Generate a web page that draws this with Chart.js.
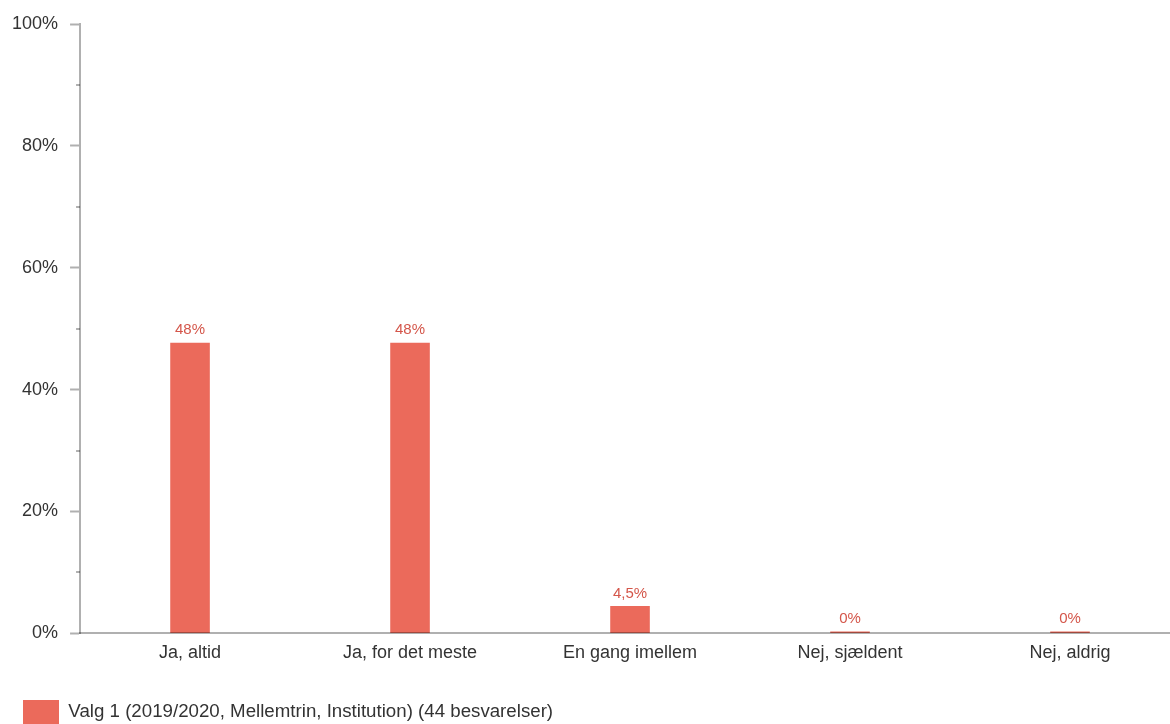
<!DOCTYPE html>
<html>
<head>
<meta charset="utf-8">
<script src="https://cdn.jsdelivr.net/npm/chart.js@4/dist/chart.umd.min.js"></script>
<style>
  html, body { margin: 0; padding: 0; background: #fff; overflow: hidden; }
  #wrap { width: 1180px; height: 734px; position: relative; }
</style>
</head>
<body>
<div id="wrap"><canvas id="chart"></canvas></div>
<script>
/* ── data ── */
const categories = ['Ja, altid', 'Ja, for det meste', 'En gang imellem', 'Nej, sjældent', 'Nej, aldrig'];
const values     = [47.7, 47.7, 4.5, 0, 0];
const valueLabels = ['48%', '48%', '4,5%', '0%', '0%'];
const seriesName = 'Valg 1 (2019/2020, Mellemtrin, Institution) (44 besvarelser)';
const minorTicks = [10, 30, 50, 70, 90];

const BAR = '#eb6a5b';
const LABEL = '#d4564a';
const AXIS = 'rgba(0,0,0,0.31)';
const FONT = '"Liberation Sans", Arial, sans-serif';

// value labels above each bar
const barLabels = {
  id: 'barLabels',
  afterDatasetsDraw(chart) {
    const ctx = chart.ctx;
    const meta = chart.getDatasetMeta(0);
    ctx.save();
    ctx.font = '15px ' + FONT;
    ctx.fillStyle = LABEL;
    ctx.textAlign = 'center';
    ctx.textBaseline = 'bottom';
    meta.data.forEach((bar, i) => {
      ctx.fillText(valueLabels[i], bar.x, Math.min(bar.y, bar.base) - 5);
    });
    ctx.restore();
  }
};

// short minor ticks on the y axis
const minorTickMarks = {
  id: 'minorTickMarks',
  afterDraw(chart) {
    const ctx = chart.ctx;
    const y = chart.scales.y;
    ctx.save();
    ctx.strokeStyle = AXIS;
    ctx.lineWidth = 2;
    minorTicks.forEach(v => {
      const py = Math.round(y.getPixelForValue(v));
      ctx.beginPath();
      ctx.moveTo(y.right - 4, py);
      ctx.lineTo(y.right, py);
      ctx.stroke();
    });
    ctx.restore();
  }
};

new Chart(document.getElementById('chart'), {
  type: 'bar',
  data: {
    labels: categories,
    datasets: [{
      label: seriesName,
      data: values,
      backgroundColor: BAR,
      barPercentage: 0.18,
      categoryPercentage: 1,
      minBarLength: 2
    }]
  },
  options: {
    responsive: true,
    maintainAspectRatio: false,
    animation: false,
    layout: { padding: { top: 24, right: 0, left: 0, bottom: 0 } },
    plugins: {
      legend: {
        position: 'bottom',
        align: 'start',
        labels: {
          boxWidth: 36, boxHeight: 24, padding: 23,
          color: '#333', font: { size: 18.7, family: FONT }
        }
      },
      tooltip: { enabled: false }
    },
    scales: {
      x: {
        grid: { display: false },
        border: { display: true, color: AXIS, width: 2, z: 1 },
        ticks: { color: '#333', padding: 1, font: { size: 18, family: FONT } },
        afterFit: s => { s.height = s.height + 12; }
      },
      y: {
        min: 0, max: 100,
        grid: { drawOnChartArea: false, tickLength: 10, tickColor: AXIS, tickWidth: 2 },
        border: { display: true, color: AXIS, width: 2, z: 1 },
        ticks: { stepSize: 20, padding: 12, color: '#333', font: { size: 18, family: FONT }, callback: v => v + '%' }
      }
    }
  },
  plugins: [barLabels, minorTickMarks]
});
</script>
</body>
</html>
